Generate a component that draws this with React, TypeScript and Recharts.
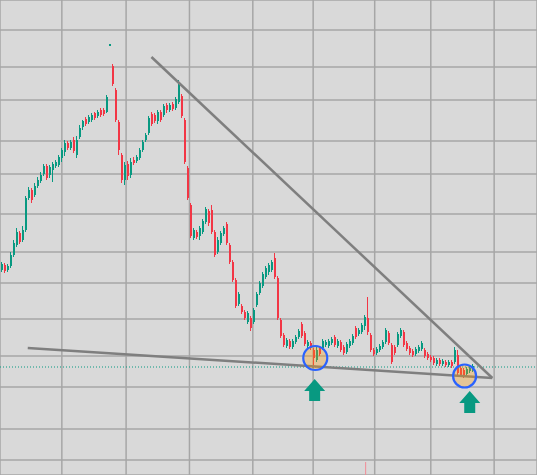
import React from 'react';
import {
    ComposedChart,
    Bar,
    XAxis,
    YAxis,
    CartesianGrid,
    ReferenceLine,
    ReferenceDot,
} from 'recharts';

const UP = '#089981';
const DOWN = '#f23645';
const BG = '#d9d9d9';

// candle prices, one per session
const opens = [
    230, 235, 230, 234, 245, 255, 267, 260, 270, 302,
    310, 305, 314, 319, 326, 334, 325, 330, 334, 335,
    342, 348, 357, 352, 360, 345, 363, 373, 381, 378,
    380, 387, 384, 390, 390, 388, 454, 434, 410, 378,
    345, 320, 336, 325, 340, 339, 342, 350, 360, 367,
    386, 385, 379, 388, 385, 395, 390, 396, 392, 398,
    404, 380, 332, 295, 262, 268, 264, 268, 278, 289,
    290, 268, 248, 257, 266, 276, 255, 238, 220, 196,
    194, 188, 178, 182, 178, 195, 207, 214, 223, 228,
    230, 242, 222, 180, 165, 154, 159, 153, 158, 163,
    176, 167, 154, 157, 150, 140, 152, 152, 155, 154,
    157, 163, 154, 158, 153, 148, 154, 157, 172, 166,
    168, 174, 182, 165, 150, 147, 150, 153, 158, 167,
    155, 153, 155, 164, 168, 157, 152, 149, 146, 149,
    151, 150, 146, 143, 142, 136, 140, 136, 138, 135,
    138, 138, 145, 132, 130, 126, 129, 130,
];
const highs = [
    238, 237, 236, 248, 260, 272, 269, 274, 304, 313,
    312, 317, 323, 328, 336, 336, 335, 338, 340, 345,
    352, 360, 359, 360, 363, 364, 375, 380, 383, 385,
    387, 388, 390, 392, 392, 405, 456, 436, 412, 380,
    347, 338, 339, 342, 343, 345, 352, 360, 367, 384,
    388, 387, 390, 390, 396, 397, 397, 398, 403, 420,
    406, 382, 334, 297, 272, 270, 274, 281, 293, 291,
    295, 270, 263, 269, 274, 278, 257, 240, 222, 208,
    196, 190, 189, 184, 192, 208, 219, 228, 234, 237,
    240, 247, 224, 182, 167, 162, 161, 161, 165, 171,
    178, 169, 160, 159, 152, 154, 154, 161, 160, 161,
    163, 165, 161, 160, 155, 158, 161, 166, 174, 172,
    177, 185, 203, 167, 152, 153, 156, 160, 172, 169,
    157, 155, 168, 172, 170, 159, 154, 151, 153, 155,
    159, 152, 148, 145, 144, 142, 142, 141, 140, 140,
    140, 153, 150, 134, 132, 133, 134, 136,
];
const lows = [
    228, 227, 228, 232, 243, 253, 256, 258, 268, 300,
    297, 303, 312, 317, 324, 320, 322, 318, 332, 333,
    338, 344, 350, 350, 347, 342, 361, 370, 374, 376,
    378, 380, 382, 383, 384, 387, 454, 414, 378, 345,
    317, 315, 320, 322, 335, 337, 340, 348, 358, 365,
    374, 377, 376, 378, 383, 387, 388, 389, 390, 396,
    382, 336, 300, 262, 260, 261, 260, 266, 276, 274,
    266, 243, 246, 255, 264, 255, 236, 218, 192, 194,
    186, 180, 176, 169, 176, 193, 205, 212, 221, 225,
    228, 221, 180, 162, 153, 152, 151, 151, 156, 161,
    162, 154, 152, 150, 132, 138, 144, 150, 153, 152,
    155, 153, 152, 148, 145, 146, 152, 155, 161, 164,
    166, 170, 165, 148, 144, 145, 148, 151, 156, 155,
    136, 145, 153, 162, 153, 149, 145, 143, 144, 147,
    149, 142, 140, 138, 135, 134, 134, 134, 133, 133,
    132, 136, 124, 123, 122, 124, 127, 128,
];
const closes = [
    236, 229, 234, 245, 257, 268, 258, 270, 302, 310,
    300, 314, 320, 325, 334, 322, 333, 336, 338, 343,
    350, 357, 352, 358, 349, 360, 372, 379, 376, 383,
    385, 382, 388, 385, 386, 403, 456, 416, 380, 350,
    320, 335, 324, 338, 337, 343, 350, 358, 365, 382,
    376, 379, 388, 380, 394, 390, 395, 391, 401, 415,
    384, 338, 302, 264, 270, 263, 272, 279, 291, 277,
    268, 245, 260, 267, 272, 257, 238, 220, 194, 206,
    188, 182, 187, 172, 190, 206, 217, 226, 232, 235,
    238, 223, 182, 164, 155, 160, 153, 159, 163, 169,
    164, 156, 158, 152, 142, 150, 146, 159, 158, 159,
    161, 155, 159, 150, 147, 156, 159, 164, 163, 170,
    175, 183, 168, 150, 146, 151, 154, 158, 170, 157,
    138, 147, 166, 170, 155, 151, 147, 145, 151, 153,
    157, 144, 142, 140, 137, 140, 136, 139, 135, 138,
    134, 150, 127, 125, 124, 131, 132, 134,
];

// empty sessions to the right of the last candle
const SLOTS = 179;

const gridPrices = [470, 433, 400, 359, 326, 286, 248, 217, 181, 144, 113, 71, 40];
const gridTimes = [1.8, 20.5, 41.8, 62.8, 83.8, 103.8, 124.2, 142.8, 163.8];

const resistance = [{ x: 50.2, y: 443 }, { x: 163.2, y: 122 }];
const support = [{ x: 9.2, y: 152 }, { x: 163.2, y: 122 }];
const lastPrice = 133;
const touches = [
    { x: 104.5, y: 142, r: 12 },
    { x: 154, y: 124, r: 11.5 },
];
const arrows = [
    { x: 104.3, y: 110 },
    { x: 155.7, y: 98 },
];

const data = Array.from({ length: SLOTS }, (_, i) =>
    i < opens.length
        ? { i, o: opens[i], h: highs[i], l: lows[i], c: closes[i], range: [lows[i], highs[i]] }
        : { i }
);

const Candle = (props: any) => {
    const { x, y, height, payload } = props;
    if (!payload || payload.range == null) return null;
    const { o, h, l, c } = payload;
    const span = h - l || 1;
    const hgt = Math.abs(height);
    const top0 = height < 0 ? y + height : y;
    const py = (v: number) => top0 + ((h - v) / span) * hgt;
    const color = c >= o ? UP : DOWN;
    const left = Math.round(x);
    const bTop = py(Math.max(o, c));
    const bBot = py(Math.min(o, c));
    return (
        <g>
            <rect x={left} y={top0} width={1} height={Math.max(hgt, 1)} fill={color} />
            <rect x={left} y={bTop} width={2} height={Math.max(bBot - bTop, 1.2)} fill={color} />
        </g>
    );
};

const Arrow = (props: any) => {
    const { cx, cy } = props;
    const d = `M${cx},${cy - 11} L${cx + 10.5},${cy + 1} L${cx + 5.5},${cy + 1} L${cx + 5.5},${cy + 11} L${cx - 5.5},${cy + 11} L${cx - 5.5},${cy + 1} L${cx - 10.5},${cy + 1} Z`;
    return <path d={d} fill={UP} />;
};

export default function App() {
    return (
        <div style={{ position: 'absolute', left: 0, top: 0, width: 537, height: 475, background: BG }}>
            <ComposedChart width={537} height={475} data={data} margin={{ top: 0, right: 0, bottom: 0, left: 0 }}>
                <XAxis xAxisId="c" dataKey="i" type="category" hide />
                <XAxis xAxisId="t" type="number" domain={[-0.5, SLOTS - 0.5]} ticks={gridTimes} hide allowDataOverflow />
                <YAxis type="number" domain={[25, 500]} ticks={gridPrices} hide allowDataOverflow />
                <CartesianGrid xAxisId="t" stroke="#a6a6a6" strokeWidth={1.5} />
                <ReferenceLine y={lastPrice} xAxisId="t" stroke={UP} strokeDasharray="1 2" strokeWidth={1} />
                <ReferenceLine
                    xAxisId="t"
                    segment={[{ x: 121.2, y: 38 }, { x: 121.2, y: 25 }]}
                    stroke="#f28b96"
                    strokeWidth={1}
                />
                <Bar xAxisId="c" dataKey="range" barSize={2} shape={Candle} isAnimationActive={false} />
                <ReferenceLine xAxisId="t" segment={resistance} stroke="#7f7f7f" strokeWidth={2.5} />
                <ReferenceLine xAxisId="t" segment={support} stroke="#7f7f7f" strokeWidth={2.5} />
                {touches.map((t, k) => (
                    <ReferenceDot
                        key={'c' + k}
                        xAxisId="t"
                        x={t.x}
                        y={t.y}
                        r={t.r}
                        fill="rgba(255,152,0,0.3)"
                        stroke="#2962ff"
                        strokeWidth={2.2}
                    />
                ))}
                {arrows.map((a, k) => (
                    <ReferenceDot key={'a' + k} xAxisId="t" x={a.x} y={a.y} r={10} shape={Arrow} />
                ))}
            </ComposedChart>
        </div>
    );
}
